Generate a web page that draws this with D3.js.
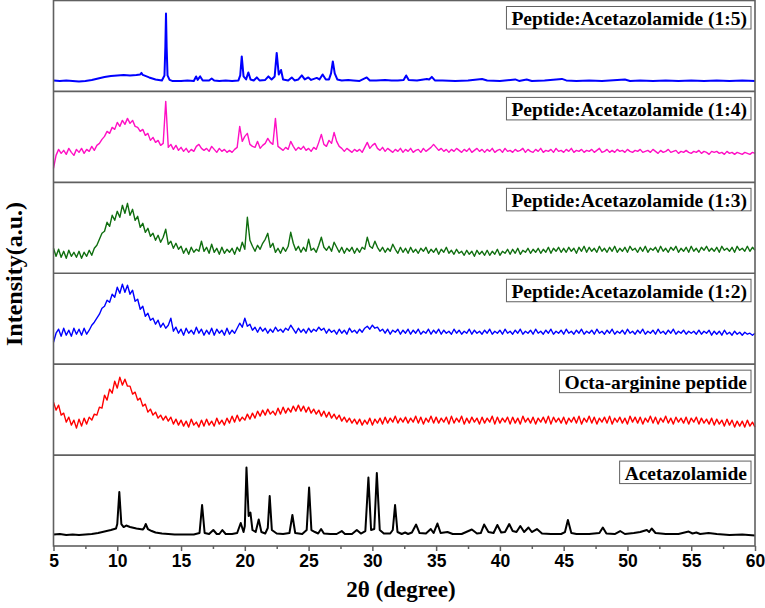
<!DOCTYPE html>
<html><head><meta charset="utf-8">
<script src="https://cdn.jsdelivr.net/npm/d3@7"></script>
<style>body{margin:0;background:#fff}</style></head>
<body><svg id="c" width="765" height="608"></svg>
<script>
// ---------- data (intensity in arbitrary units per panel) ----------
const sampleNames = ["Peptide:Acetazolamide (1:5)", "Peptide:Acetazolamide (1:4)", "Peptide:Acetazolamide (1:3)",
  "Peptide:Acetazolamide (1:2)", "Octa-arginine peptide", "Acetazolamide"];
const sampleColors = ["#0000ff", "#ff10c4", "#0f6e0f", "#0000ff", "#ff0000", "#000000"];
const xTickLabels = [5, 10, 15, 20, 25, 30, 35, 40, 45, 50, 55, 60];
const xMinorTicks = [7.5, 12.5, 17.5, 22.5, 27.5, 32.5, 37.5, 42.5, 47.5, 52.5, 57.5];

// uniform 2θ grid (step 0.2°) used by the noisy scans
const twoTheta = d3.range(276).map(i => +(5 + i * 0.2).toFixed(1));

// Peptide:Acetazolamide (1:5) — [2θ, intensity]
const ratio15 = [[5,11],[5.5,10.5],[6,11],[6.5,10.5],[7,10],[7.5,10.5],[8,11.5],[8.5,13],[9,14.5],[9.5,15.5],[10,16],[10.5,16.5],[11,16],[11.5,16.5],[11.8,17],[11.9,18.5],[12.0,16.5],[12.5,14],[13,12],[13.5,11],[13.7,16],[13.77,45],[13.82,78],[13.87,45],[13.94,16],[14.1,11.5],[14.3,10.5],[15,10.5],[15.5,11],[16.0,10.5],[16.18,15],[16.3,11.5],[16.5,15],[16.7,11],[17.2,11],[17.4,13],[17.6,11],[18,10.5],[18.5,11],[19,10.5],[19.5,11],[19.64,16],[19.76,35],[19.9,15],[20.1,12],[20.28,19],[20.45,12],[20.7,11],[20.94,14],[21.15,11],[21.6,11.5],[21.85,15],[22.1,12],[22.34,15],[22.5,38.5],[22.66,17],[22.84,21.5],[23.0,12],[23.4,11],[23.68,14],[23.9,11],[24.2,12],[24.47,16],[24.7,12],[24.98,14],[25.2,11.5],[25.64,13.5],[25.85,12],[26.1,17],[26.35,12],[26.6,12],[26.76,18],[26.9,30],[27.05,18],[27.25,12],[27.6,11],[28.1,11.5],[28.5,11],[29,10.5],[29.56,14],[29.8,11],[30.3,11],[31,11.5],[31.5,11],[32,11],[32.45,11.5],[32.65,16],[32.85,11.5],[33.5,11],[34.27,12.5],[34.45,12],[34.66,14.5],[34.9,11],[35.5,11],[36.5,10.5],[37.5,11],[38.6,12.5],[39,11],[40,10.5],[41.2,12],[41.5,10.5],[42.1,12],[42.5,10.5],[43.5,11],[44.86,12.5],[45.2,11],[46,10.5],[47,11],[48,10.5],[49.8,12],[50.2,10.5],[51,11],[52,10.5],[53,11],[54,10.5],[55,11],[56,10.5],[57,11],[58,10.5],[59,11],[60,10.5]];

// Peptide:Acetazolamide (1:4) — on twoTheta grid
const ratio14 = [14,27,33,29,32,28,34,30,27,33, 30,34,29,33,31,36,32,37,39,43, 46,51,49,55,53,60,56,62,58,64,
  59,62,56,55,51,53,47,49,42,45, 40,42,37,39,81,35,38,33,37,32, 35,31,34,30,33,31,36,38,34,32,
  34,31,36,33,30,34,31,33,30,32, 30,33,35,56,41,46,49,38,36,35, 41,34,37,39,44,40,38,64,36,34,
  32,35,33,41,36,32,35,33,36,32, 34,31,35,33,40,48,38,36,42,39, 50,41,36,34,31,34,32,30,33,31,
  33,30,35,40,34,37,39,34,32,35, 31,34,32,30,33,31,34,30,33,31, 34,30,32,33,30,34,31,33,35,38,
  35,32,34,31,33,30,33,31,34,32, 30,33,31,34,30,32,34,31,33,30, 33,31,34,30,32,33,30,34,31,32,
  30,33,31,32,34,30,33,31,30,33, 31,34,30,32,31,33,30,34,31,32, 30,33,31,34,30,32,31,33,30,32,
  31,33,30,32,34,30,31,33,30,32, 30,33,31,32,30,33,31,30,32,31, 33,30,31,32,30,33,31,29,32,30,
  31,33,30,31,32,29,31,30,32,30, 29,31,30,32,29,31,30,28,31,30, 31,29,30,28,31,29,30,28,30,29,
  28,30,29,28,30,29];

// Peptide:Acetazolamide (1:3)
const ratio13 = [25,17,24,16,22,15,23,17,21,16, 22,15,21,17,23,18,25,28,34,40, 42,51,47,58,53,62,56,68,60,70,
  58,64,53,57,46,50,41,45,37,40, 33,38,31,36,44,29,32,25,30,24, 27,20,25,19,26,21,24,22,32,22,
  26,20,29,21,25,19,26,20,24,21, 25,19,26,22,31,24,56,33,27,22, 28,24,30,34,40,26,30,21,25,20,
  26,22,27,41,30,23,27,21,26,22, 34,23,25,21,28,36,26,23,27,22, 31,26,21,26,20,25,22,26,20,25,
  21,26,24,36,27,25,32,26,22,26, 21,25,22,29,24,20,26,21,25,20, 26,21,24,20,25,22,26,20,24,21,
  25,19,24,21,26,20,23,19,24,20, 22,18,23,19,22,17,23,19,22,18, 23,18,22,19,24,18,22,20,24,19,
  24,20,25,19,23,21,25,20,24,21, 25,20,24,21,26,20,25,22,26,21, 25,21,26,22,25,20,26,22,27,21,
  26,22,25,21,27,22,25,21,26,22, 27,21,25,22,26,21,27,23,25,21, 26,22,27,21,25,23,26,21,27,22,
  25,21,26,23,27,21,25,22,26,21, 27,22,25,21,26,23,27,22,25,22, 26,21,27,23,25,22,26,21,27,23,
  25,22,27,22,26,23];

// Peptide:Acetazolamide (1:2)
const ratio12 = [22,31,35,28,36,29,34,28,36,30, 35,29,36,30,34,39,42,46,50,56, 58,64,62,70,67,77,71,80,72,79,
  70,74,63,65,55,58,48,51,44,46, 40,44,37,41,36,39,46,33,37,31, 35,29,36,31,34,30,37,31,35,29,
  34,30,36,29,35,31,34,29,36,30, 34,31,36,41,37,46,38,40,34,37, 32,37,33,36,31,35,32,37,33,35,
  32,36,34,39,35,31,36,32,35,31, 36,32,35,33,37,34,36,31,35,32, 34,30,35,31,34,30,36,32,34,31,
  35,32,36,38,35,39,36,37,33,35, 31,35,30,34,32,35,30,34,31,35, 30,34,31,35,30,33,31,35,30,34,
  31,35,30,34,31,33,30,35,31,34, 30,33,31,35,30,34,31,33,30,34, 31,35,30,33,31,34,30,35,31,33,
  30,34,31,35,30,33,31,34,30,35, 31,33,30,34,31,35,30,33,31,34, 30,35,31,33,30,34,31,35,30,33,
  31,34,30,35,31,33,30,34,31,35, 30,33,31,34,30,35,31,33,30,34, 31,35,30,33,31,34,30,35,31,33,
  30,34,31,35,30,33,31,34,30,33, 31,33,30,34,30,33,31,34,29,33, 30,33,29,34,30,32,29,33,30,32,
  29,32,30,31,29,31];

// Octa-arginine peptide
const octaArg = [53,45,50,40,42,33,38,30,35,27, 36,29,37,31,38,35,41,40,48,47, 60,55,66,62,74,67,78,70,76,69,
  69,61,63,55,57,49,51,43,46,40, 43,37,40,35,39,34,38,31,36,30, 35,29,34,28,36,30,33,28,35,29,
  36,30,34,29,37,31,35,30,37,32, 39,33,40,34,38,35,41,36,42,37, 44,39,45,40,46,41,44,40,47,41,
  48,42,47,43,49,44,50,44,49,43, 48,42,46,41,45,39,44,38,43,37, 41,36,40,34,38,33,37,32,36,31,
  36,30,35,31,37,30,36,32,37,31, 38,32,37,33,39,32,37,33,38,32, 37,33,39,32,38,31,37,33,39,32,
  38,32,37,33,38,31,39,32,37,33, 39,31,37,32,38,33,37,31,38,32, 37,33,39,31,38,32,37,33,38,31,
  38,32,37,31,39,33,37,32,38,31, 37,33,38,32,39,31,38,33,37,32, 38,31,37,33,38,32,39,31,37,33,
  39,32,38,31,37,33,38,32,39,31, 37,33,38,32,37,31,39,33,38,32, 38,31,37,33,39,32,38,31,37,33,
  39,32,37,31,38,33,37,32,38,31, 37,33,38,31,37,32,36,31,37,30, 36,31,35,29,36,30,35,28,34,29,
  34,28,35,29,33,28];

// Acetazolamide — [2θ, intensity]
const acetazolamide = [[5,11.5],[5.5,12],[6,11],[6.5,11.5],[7,11],[7.5,11.5],[8,12],[8.5,13],[9,14.5],[9.5,16],[9.9,17.5],[10.0,22],[10.16,54],[10.32,22],[10.5,19],[10.7,20.5],[11,19],[11.5,17.5],[12.0,16.5],[12.1,18],[12.23,22],[12.4,17],[12.7,15],[13,13.5],[13.5,12.5],[14,12],[14.5,11.5],[15,11.5],[15.5,11.5],[16,11.5],[16.45,13],[16.65,41],[16.85,13],[17.2,12],[17.53,16],[17.8,12],[18.0,12],[18.24,16],[18.5,12],[19.0,12],[19.4,13],[19.68,23],[19.9,14],[20.0,20],[20.13,78.5],[20.3,30],[20.44,33.5],[20.6,16],[20.85,14],[21.09,26.5],[21.3,14],[21.6,12.5],[21.8,18],[21.95,50],[22.12,16],[22.5,12.5],[23,12],[23.5,13],[23.73,31],[23.95,13],[24.5,12],[24.85,16],[25.04,58.5],[25.22,16],[25.5,14],[25.75,12.5],[25.98,17],[26.2,12.5],[26.7,12],[27.2,12],[27.6,15],[27.85,12],[28.4,12],[28.78,16],[29.1,12.5],[29.45,15],[29.69,68.5],[29.9,16],[30.15,17],[30.35,73],[30.58,16],[30.9,12.5],[31.4,12.5],[31.6,16],[31.78,41],[31.97,14],[32.3,12],[32.57,13.5],[32.8,12],[33.1,13.5],[33.43,21.5],[33.7,13],[34.2,12.5],[34.58,17],[34.8,13],[35.1,22.5],[35.35,13],[35.89,14],[36.3,12],[37,12],[37.8,16.5],[38.2,12.5],[38.5,13],[38.76,21.5],[39.1,14],[39.5,13],[39.8,21],[40.1,13.5],[40.4,14],[40.73,22],[41.0,15],[41.3,14],[41.6,20],[41.9,14],[42.24,18.5],[42.5,14],[42.9,17],[43.3,12.5],[44,12],[44.8,12],[45.1,14],[45.33,26],[45.6,13],[46,12],[47,12],[47.8,13],[48.07,18.5],[48.35,12.5],[49,12],[49.43,15],[49.8,12],[50.5,13],[51.0,14],[51.52,16],[51.7,14],[51.9,17.5],[52.2,13],[53,12],[54,12],[54.8,14.5],[55.1,12.5],[55.4,13.5],[55.7,12],[56.36,13],[57,12],[58,11],[59,11.5],[60,10.5]];

// ---------- build ----------
const toPairs = ys => ys.map((v, i) => [twoTheta[i], v]);
const seriesData = [ratio15, toPairs(ratio14), toPairs(ratio13), toPairs(ratio12), toPairs(octaArg), acetazolamide];
const lineWidths = [2, 1.4, 1.4, 1.4, 1.4, 2];

const svg = d3.select("#c");
const L = 53.5, R = 755, T = 0.5, B = 546;
const panelH = (B - T) / 6;
const x = d3.scaleLinear().domain([5, 60]).range([L, R]);

seriesData.forEach((data, i) => {
  const top = T + i * panelH;
  const y = d3.scaleLinear().domain([0, 91]).range([top + panelH, top]);
  const line = d3.line().x(d => x(d[0])).y(d => y(d[1]));
  svg.append("path").datum(data).attr("d", line)
    .attr("fill", "none").attr("stroke", sampleColors[i])
    .attr("stroke-width", lineWidths[i]).attr("stroke-linejoin", "round");
});

// frame & separators
const frame = svg.append("g").attr("stroke", "#606060").attr("fill", "none");
frame.append("rect").attr("x", L).attr("y", T).attr("width", R - L).attr("height", B - T).attr("stroke-width", 1.6);
for (let i = 1; i < 6; i++) {
  frame.append("line").attr("x1", L).attr("x2", R).attr("y1", T + i * panelH).attr("y2", T + i * panelH).attr("stroke-width", 1.6);
}

// labels with boxes
sampleNames.forEach((name, i) => {
  const top = T + i * panelH;
  const g = svg.append("g");
  const t = g.append("text").text(name)
    .attr("x", 747).attr("y", top + 24.5).attr("text-anchor", "end")
    .style("font-family", "'Liberation Serif','Times New Roman',serif")
    .style("font-weight", "bold").style("font-size", "19.5px").attr("fill", "#000");
  const w = t.node().getComputedTextLength();
  g.insert("rect", "text").attr("x", 747 - w - 5).attr("y", top + 6).attr("width", w + 9).attr("height", 22.5)
    .attr("fill", "#fff").attr("stroke", "#606060").attr("stroke-width", 1);
});

// x axis
const axis = svg.append("g").attr("transform", `translate(0,${B})`);
axis.call(d3.axisBottom(x).tickValues(xTickLabels).tickSize(5).tickPadding(4).tickFormat(d3.format("d")));
axis.select(".domain").remove();
axis.selectAll(".tick line").attr("stroke", "#606060").attr("stroke-width", 1.5);
axis.selectAll(".tick text").style("font-family", "'Liberation Sans',Arial,sans-serif")
  .style("font-weight", "bold").style("font-size", "17.5px").attr("fill", "#000");
const minor = svg.append("g").attr("transform", `translate(0,${B})`);
minor.call(d3.axisBottom(x).tickValues(xMinorTicks).tickSize(3).tickFormat(""));
minor.select(".domain").remove();
minor.selectAll(".tick line").attr("stroke", "#606060").attr("stroke-width", 1.5);

// titles
svg.append("text").attr("x", 401).attr("y", 597).attr("text-anchor", "middle")
  .style("font-family", "'Liberation Serif','Times New Roman',serif").style("font-weight", "bold").style("font-size", "23px")
  .text("2θ (degree)");
svg.append("text").attr("transform", "translate(22,274) rotate(-90)").attr("text-anchor", "middle")
  .style("font-family", "'Liberation Serif','Times New Roman',serif").style("font-weight", "bold").style("font-size", "24px")
  .text("Intensity(a.u.)");
</script></body></html>
